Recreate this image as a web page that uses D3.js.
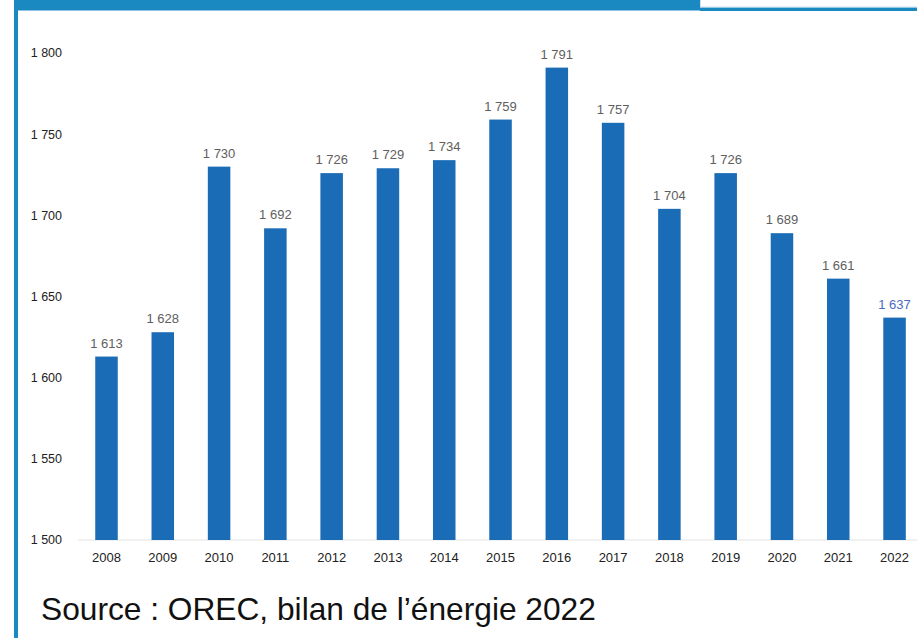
<!DOCTYPE html>
<html>
<head>
<meta charset="utf-8">
<script src="https://cdn.jsdelivr.net/npm/d3@7"></script>
<style>
  body { margin: 0; background: #fff; }
  svg { display: block; font-family: "Liberation Sans", Arial, sans-serif; }
</style>
</head>
<body>
<div id="chart"></div>
<script>
var years = ["2008", "2009", "2010", "2011", "2012", "2013", "2014", "2015", "2016", "2017", "2018", "2019", "2020", "2021", "2022"];
var values = [1613, 1628, 1730, 1692, 1726, 1729, 1734, 1759, 1791, 1757, 1704, 1726, 1689, 1661, 1637];
var yTicks = [1500, 1550, 1600, 1650, 1700, 1750, 1800];
var sourceText = "Source : OREC, bilan de l\u2019énergie 2022";

var width = 917, height = 638;
var blue = "#1a88c1";

var fmt = function (v) { return d3.format(",")(v).replace(/,/g, " "); };

var svg = d3.select("#chart").append("svg")
    .attr("width", width)
    .attr("height", height);

// frame: banner, right tab, left border
svg.append("rect").attr("x", 14).attr("y", 0).attr("width", 686).attr("height", 10.5).style("fill", blue);
svg.append("rect").attr("x", 700).attr("y", 7.3).attr("width", 217).attr("height", 3.7).style("fill", blue);
svg.append("rect").attr("x", 700.5).attr("y", -1).attr("width", 220).attr("height", 8)
    .style("fill", "#fff").style("stroke", "#cfe3ef").style("stroke-width", 1);
svg.append("rect").attr("x", 14).attr("y", 0).attr("width", 4).attr("height", height).style("fill", blue);

var x = d3.scaleBand()
    .domain(years)
    .range([78.35, 922.7])
    .paddingInner(0.6)
    .paddingOuter(0.3);

var y = d3.scaleLinear()
    .domain([1500, 1800])
    .range([540, 53]);

// baseline
svg.append("line")
    .attr("x1", 78).attr("x2", 917)
    .attr("y1", y(1500)).attr("y2", y(1500))
    .style("stroke", "#e3e3e3").style("stroke-width", 1.2);

// y tick labels
svg.append("g").selectAll("text")
    .data(yTicks)
  .enter().append("text")
    .attr("x", 62)
    .attr("y", function (d) { return y(d); })
    .attr("dy", "0.35em")
    .style("text-anchor", "end")
    .style("font-size", "12.5px")
    .style("fill", "#222")
    .text(fmt);

// bars
svg.append("g").selectAll("rect")
    .data(values)
  .enter().append("rect")
    .attr("x", function (d, i) { return x(years[i]); })
    .attr("y", function (d) { return y(d); })
    .attr("width", x.bandwidth())
    .attr("height", function (d) { return y(1500) - y(d); })
    .style("fill", "#1a6cb6");

// value labels
svg.append("g").selectAll("text")
    .data(values)
  .enter().append("text")
    .attr("x", function (d, i) { return x(years[i]) + x.bandwidth() / 2; })
    .attr("y", function (d) { return y(d) - 9; })
    .style("text-anchor", "middle")
    .style("font-size", "13px")
    .style("fill", function (d, i) { return i === values.length - 1 ? "#4a6cc0" : "#5e5e5e"; })
    .text(fmt);

// x labels
svg.append("g").selectAll("text")
    .data(years)
  .enter().append("text")
    .attr("x", function (d) { return x(d) + x.bandwidth() / 2; })
    .attr("y", 562)
    .style("text-anchor", "middle")
    .style("font-size", "13px")
    .style("fill", "#222")
    .text(function (d) { return d; });

svg.append("text")
    .attr("x", 41)
    .attr("y", 620)
    .style("font-size", "31.7px")
    .style("fill", "#111")
    .text(sourceText);
</script>
</body>
</html>
